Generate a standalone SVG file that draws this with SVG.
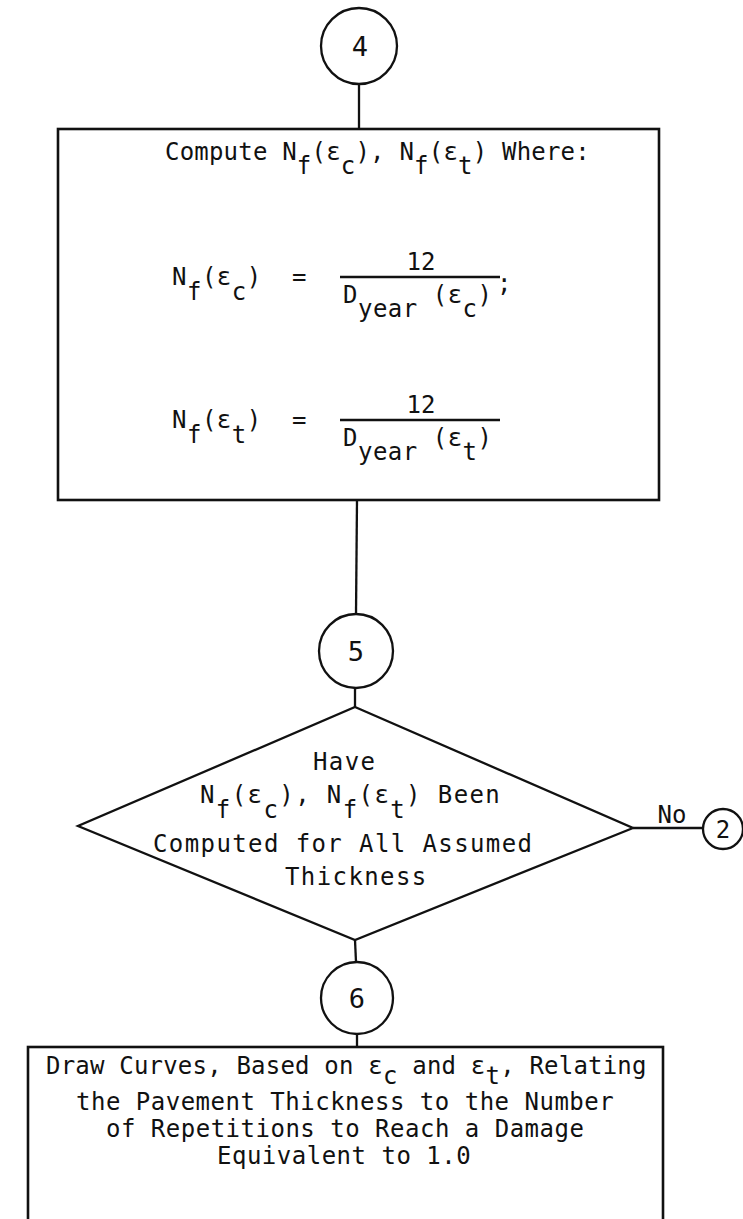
<svg xmlns="http://www.w3.org/2000/svg" width="743" height="1219" viewBox="0 0 743 1219">
<style>
.ln{stroke:#111;stroke-width:2.3;fill:none}
.bx{stroke:#111;stroke-width:2.6;fill:none}
.t{font-family:"DejaVu Sans Mono",monospace;font-size:24px;letter-spacing:0.5px;fill:#111}
.w{font-family:"DejaVu Sans Mono",monospace;font-size:24px;letter-spacing:0.2px;fill:#111}
.d{font-family:"DejaVu Sans Mono",monospace;font-size:24px;letter-spacing:1.4px;fill:#111}
.c{font-family:"DejaVu Sans Mono",monospace;font-size:24px;fill:#111;text-anchor:middle}
.n{font-family:"DejaVu Sans Mono",monospace;font-size:27px;fill:#111;text-anchor:middle}
</style>
<rect width="743" height="1219" fill="#fff"/>
<g id="connectors">
<line class="ln" x1="359" y1="85" x2="359" y2="129"/>
<line class="ln" x1="357" y1="500" x2="356" y2="614"/>
<line class="ln" x1="355" y1="688" x2="355" y2="707"/>
<line class="ln" x1="633" y1="828" x2="703" y2="828"/>
<text class="c" x="672" y="823">No</text>
<line class="ln" x1="355" y1="940" x2="356" y2="962"/>
<line class="ln" x1="357" y1="1034" x2="357" y2="1047"/>
</g>
<g id="node-4">
<circle class="ln" cx="359" cy="46" r="38"/>
<text class="n" x="360" y="56">4</text>
</g>
<g id="node-compute">
<rect class="bx" x="58" y="129" width="601" height="371"/>
<text class="w" x="165" y="160">Compute N<tspan dy="14">f</tspan><tspan dy="-14">(ε</tspan><tspan dy="14">c</tspan><tspan dy="-14">), N</tspan><tspan dy="14">f</tspan><tspan dy="-14">(ε</tspan><tspan dy="14">t</tspan><tspan dy="-14">) Where:</tspan></text>
<text class="t" x="172" y="285">N<tspan dy="15">f</tspan><tspan dy="-15">(ε</tspan><tspan dy="15">c</tspan><tspan dy="-15">)</tspan></text>
<text class="t" x="292" y="285">=</text>
<text class="c" x="421" y="270">12</text>
<line class="ln" x1="340" y1="277" x2="500" y2="277"/>
<text class="t" x="343" y="303">D<tspan dy="14">year</tspan><tspan dy="-14"> (ε</tspan><tspan dy="14">c</tspan><tspan dy="-14">)</tspan></text>
<text class="t" x="497" y="292">;</text>
<text class="t" x="172" y="428">N<tspan dy="15">f</tspan><tspan dy="-15">(ε</tspan><tspan dy="15">t</tspan><tspan dy="-15">)</tspan></text>
<text class="t" x="292" y="428">=</text>
<text class="c" x="421" y="413">12</text>
<line class="ln" x1="340" y1="420" x2="500" y2="420"/>
<text class="t" x="343" y="446">D<tspan dy="14">year</tspan><tspan dy="-14"> (ε</tspan><tspan dy="14">t</tspan><tspan dy="-14">)</tspan></text>
</g>
<g id="node-5">
<circle class="ln" cx="356" cy="651" r="37"/>
<text class="n" x="356" y="661">5</text>
</g>
<g id="node-decision">
<polygon class="ln" points="355,707 633,828 355,940 78,826"/>
<text class="d" x="313" y="770">Have</text>
<text class="d" x="200" y="803">N<tspan dy="15">f</tspan><tspan dy="-15">(ε</tspan><tspan dy="15">c</tspan><tspan dy="-15">), N</tspan><tspan dy="15">f</tspan><tspan dy="-15">(ε</tspan><tspan dy="15">t</tspan><tspan dy="-15">) Been</tspan></text>
<text class="d" x="153" y="852">Computed for All Assumed</text>
<text class="d" x="285" y="885">Thickness</text>
</g>
<g id="node-2">
<circle class="ln" cx="723" cy="829" r="20"/>
<text class="c" x="723" y="838">2</text>
</g>
<g id="node-6">
<circle class="ln" cx="357" cy="998" r="36"/>
<text class="n" x="357" y="1008">6</text>
</g>
<g id="node-draw">
<rect class="bx" x="28" y="1047" width="635" height="200"/>
<text class="w" x="46" y="1074">Draw Curves, Based on ε<tspan dy="10">c</tspan><tspan dy="-10"> and ε</tspan><tspan dy="10">t</tspan><tspan dy="-10">, Relating</tspan></text>
<text class="t" x="76" y="1110">the Pavement Thickness to the Number</text>
<text class="t" x="106" y="1137">of Repetitions to Reach a Damage</text>
<text class="t" x="217" y="1164">Equivalent to 1.0</text>
</g>
</svg>
